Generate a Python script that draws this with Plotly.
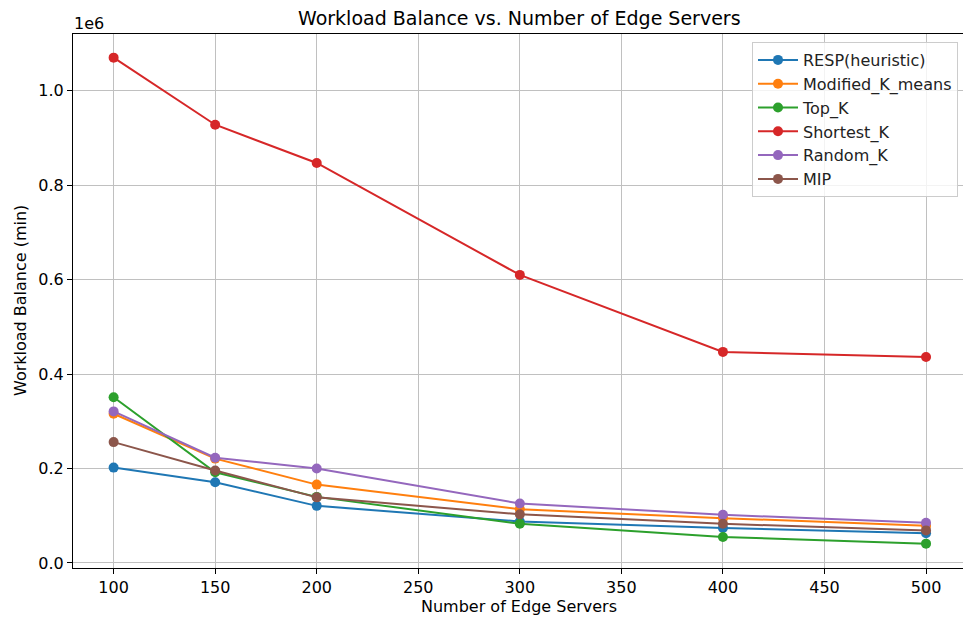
import plotly.graph_objects as go

servers = [100, 150, 200, 300, 400, 500]
resp = [202000, 171000, 121000, 88000, 74000, 63000]
kmeans = [316000, 221000, 166000, 114000, 95000, 79000]
topk = [351000, 192000, 140000, 83000, 55000, 41000]
shortest = [1070000, 928000, 847000, 610000, 447000, 436000]
randomk = [321000, 223000, 200000, 126000, 102000, 85000]
mip = [256000, 196000, 139000, 103000, 83000, 69000]

names = ["RESP(heuristic)", "Modified_K_means", "Top_K", "Shortest_K", "Random_K", "MIP"]
series = [resp, kmeans, topk, shortest, randomk, mip]
colors = ["#1f77b4", "#ff7f0e", "#2ca02c", "#d62728", "#9467bd", "#8c564b"]

yticks = [0, 200000, 400000, 600000, 800000, 1000000]
yticktext = ["0.0", "0.2", "0.4", "0.6", "0.8", "1.0"]
xticks = [100, 150, 200, 250, 300, 350, 400, 450, 500]

FONT = "DejaVu Sans"

fig = go.Figure()
for n, s, c in zip(names, series, colors):
    fig.add_trace(go.Scatter(
        x=servers, y=s, name=n, mode="lines+markers",
        line=dict(color=c, width=2),
        marker=dict(color=c, size=10),
    ))

fig.update_layout(
    width=963, height=618,
    margin=dict(l=73, r=0, t=34, b=50),
    paper_bgcolor="white", plot_bgcolor="white",
    font=dict(family=FONT, size=16, color="#000000"),
    showlegend=True,
    legend=dict(
        x=(752 - 73) / 890, y=(568 - 42) / 534, xanchor="left", yanchor="top",
        bgcolor="rgba(255,255,255,0.8)", bordercolor="#cccccc", borderwidth=1,
        font=dict(family=FONT, size=16, color="#222222"),
        tracegroupgap=0, itemwidth=40,
    ),
    xaxis=dict(
        range=[80, 518.2], tickmode="array", tickvals=xticks,
        showgrid=True, gridcolor="#c0c0c0", gridwidth=1,
        showline=True, linecolor="black", linewidth=1, mirror=True,
        ticks="outside", ticklen=5, tickcolor="black", tickwidth=1,
        tickfont=dict(family=FONT, size=16, color="#000000"),
        zeroline=False,
    ),
    yaxis=dict(
        range=[-10600, 1120100], tickmode="array", tickvals=yticks, ticktext=yticktext,
        showgrid=True, gridcolor="#c0c0c0", gridwidth=1,
        showline=True, linecolor="black", linewidth=1, mirror=False,
        ticks="outside", ticklen=5, tickcolor="black", tickwidth=1,
        tickfont=dict(family=FONT, size=16, color="#000000"),
        zeroline=False,
    ),
    annotations=[
        dict(text="Workload Balance vs. Number of Edge Servers", xref="paper", yref="paper",
             x=(519 - 73) / 890, y=(568 - 18) / 534, xanchor="center", yanchor="middle",
             showarrow=False, font=dict(family=FONT, size=19, color="#000000")),
        dict(text="Number of Edge Servers", xref="paper", yref="paper",
             x=(519 - 73) / 890, y=(568 - 606) / 534, xanchor="center", yanchor="middle",
             showarrow=False, font=dict(family=FONT, size=16, color="#000000")),
        dict(text="Workload Balance (min)", xref="paper", yref="paper",
             x=(20 - 73) / 890, y=(568 - 301) / 534, xanchor="center", yanchor="middle",
             textangle=-90, showarrow=False, font=dict(family=FONT, size=16, color="#000000")),
        dict(text="1e6", xref="paper", yref="paper",
             x=(72 - 73) / 890, y=(568 - 24) / 534, xanchor="left", yanchor="middle",
             showarrow=False, font=dict(family=FONT, size=16, color="#000000")),
    ],
)

fig.write_html("out.html")
